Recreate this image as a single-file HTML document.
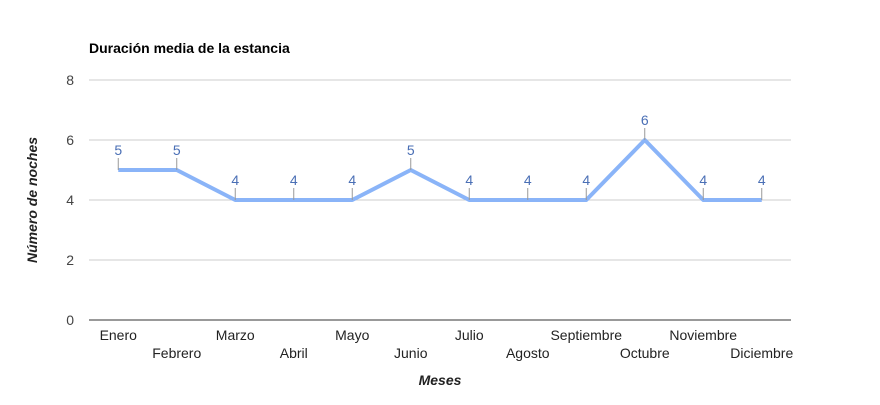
<!DOCTYPE html>
<html><head><meta charset="utf-8"><style>
body{margin:0;background:#fff;font-family:"Liberation Sans",Arial,sans-serif}
svg text{font-family:"Liberation Sans",Arial,sans-serif}
</style></head><body>
<svg id="c" width="880" height="400" xmlns="http://www.w3.org/2000/svg">
<text x="89" y="53" font-size="14" font-weight="bold" fill="#000">Duración media de la estancia</text>
<text transform="translate(37,200) rotate(-90)" text-anchor="middle" font-size="14" font-weight="bold" font-style="italic" fill="#222">Número de noches</text>
<text x="440" y="385" text-anchor="middle" font-size="14" font-weight="bold" font-style="italic" fill="#222">Meses</text>
<g id="g"></g>
</svg>
<script>
const categories=["Enero","Febrero","Marzo","Abril","Mayo","Junio","Julio","Agosto","Septiembre","Octubre","Noviembre","Diciembre"];
const values=[5,5,4,4,4,5,4,4,4,6,4,4];
const yTicks=[0,2,4,6,8];
const L=89,R=791,T=80,B=320,yMax=8;
const ns="http://www.w3.org/2000/svg",g=document.getElementById("g");
const xs=i=>L+(R-L)/categories.length*(i+0.5);
const ys=v=>B-(B-T)*v/yMax;
function mk(t,a,txt){const e=document.createElementNS(ns,t);for(const k in a)e.setAttribute(k,a[k]);if(txt!=null)e.textContent=txt;g.appendChild(e);return e;}
yTicks.forEach(v=>{
 const l=mk("line",{x1:L,x2:R,y1:ys(v),y2:ys(v),stroke:v===0?"#333":"#ccc","stroke-width":1});
 
 
 const t=mk("text",{x:L-15,y:ys(v)+5,"text-anchor":"end","font-size":14,fill:"#444"},v);
 
 
});
categories.forEach((c,i)=>{
 const t=mk("text",{x:xs(i),y:i%2?358:340,"text-anchor":"middle","font-size":14,fill:"#222"},c);
 
 
});
const p=mk("polyline",{points:values.map((v,i)=>xs(i)+","+ys(v)).join(" "),fill:"none",stroke:"#8ab4f8","stroke-width":4,"stroke-linejoin":"round"});


values.forEach((v,i)=>{
 const s=mk("line",{x1:xs(i),x2:xs(i),y1:ys(v),y2:ys(v)-12,stroke:"#999","stroke-width":1});
 
 
 const t=mk("text",{x:xs(i),y:ys(v)-15,"text-anchor":"middle","font-size":14,fill:"#4a6fb5"},v);
 
 
});
</script>
</body></html>
